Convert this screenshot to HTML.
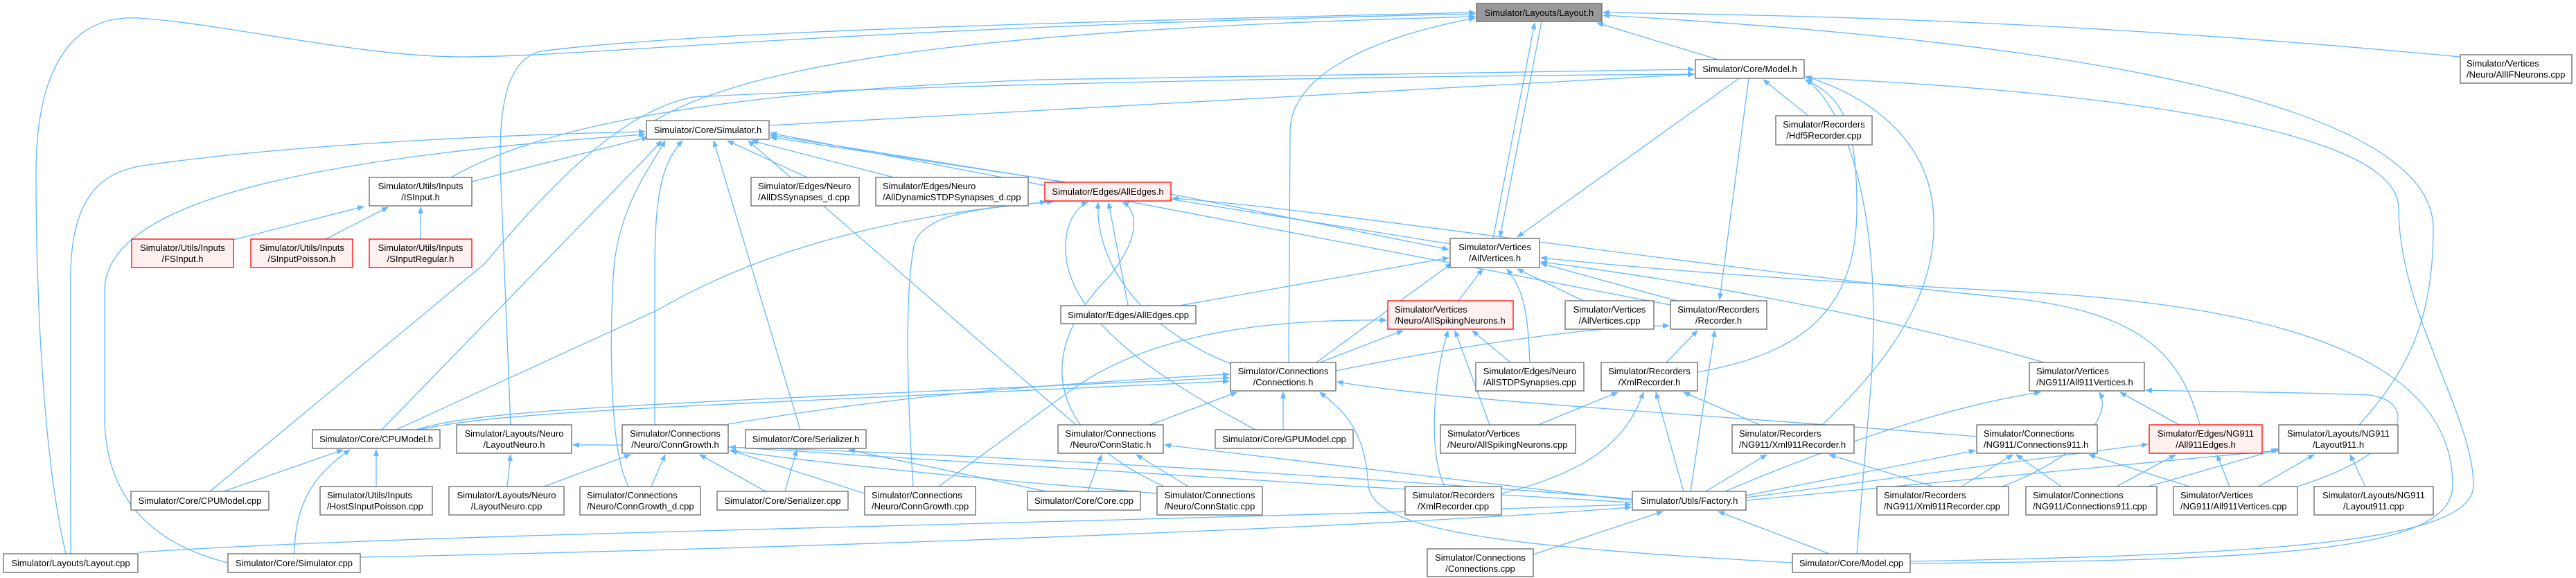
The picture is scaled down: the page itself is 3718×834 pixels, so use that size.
<!DOCTYPE html>
<html><head><meta charset="utf-8"><style>
html,body{margin:0;padding:0;background:#fff;}
svg{display:block;}
text{font-family:"Liberation Sans",sans-serif;font-size:13px;fill:#000;}
.e{fill:none;stroke:#63b8ff;stroke-width:1.3;}
.n{fill:#fff;stroke:#666;stroke-width:1.3;}
.r{fill:#fff0f0;stroke:#ff0000;stroke-width:1.3;}
.g{fill:#999;stroke:#666;stroke-width:1.3;}
</style></head><body>
<svg width="3718" height="834" viewBox="0 0 3718 834" xmlns="http://www.w3.org/2000/svg">
<defs><marker id="a" markerWidth="10" markerHeight="8" refX="9" refY="4" orient="auto" markerUnits="userSpaceOnUse"><path d="M0,0 L10,4 L0,8 z" fill="#63b8ff"/></marker></defs>
<g class="e" marker-end="url(#a)">
<path d="M2480,86 L2305,33"/>
<path d="M2155,344 L2215,33"/>
<path d="M2225,31 L2165,342"/>
<path d="M3551,82 C3000,30 2600,22 2314,18"/>
<path d="M3405,613 C3470,540 3512,470 3512,330 C3512,150 3000,60 2314,22"/>
<path d="M95,799 C60,650 52,400 52,250 C52,120 90,20 200,26 C330,35 520,82 667,82 C850,82 1200,40 2129,20"/>
<path d="M737,613 L722,240 C720,130 740,85 780,74 C1000,45 1600,30 2129,18"/>
<path d="M945,174 C1100,80 1500,40 2129,24"/>
<path d="M1860,523 L1862,190 C1862,120 1950,60 2129,26"/>
<path d="M303,709 L700,380 C800,260 900,160 1000,140 C1400,120 2000,110 2445,107"/>
<path d="M551,620 L930,230 L955,203"/>
<path d="M572,620 L950,447 C1150,330 1400,300 1520,291"/>
<path d="M600,620 C700,590 900,585 1774,545"/>
<path d="M605,620 C720,595 900,590 1774,550"/>
<path d="M681,262 L935,198"/>
<path d="M651,256 C800,170 1100,130 1500,115 L2445,100"/>
<path d="M337,346 L525,298"/>
<path d="M470,345 L560,299"/>
<path d="M607,345 L607,299"/>
<path d="M102,799 L102,400 C102,280 150,250 200,240 C400,210 700,195 931,190"/>
<path d="M329,812 C200,780 151,700 151,600 L151,420 C151,300 400,230 931,194"/>
<path d="M199,797 C600,770 1400,760 2354,728"/>
<path d="M520,804 C1200,790 2000,760 2354,732"/>
<path d="M425,799 C425,720 460,680 505,649"/>
<path d="M323,709 L495,649"/>
<path d="M543,702 L543,649"/>
<path d="M732,702 L737,656"/>
<path d="M785,702 L910,656"/>
<path d="M940,702 L960,656"/>
<path d="M907,702 C880,650 880,500 885,400 C890,300 940,240 960,203"/>
<path d="M945,613 L945,400 C945,300 950,240 985,203"/>
<path d="M1051,612 C1300,570 1500,555 1774,540"/>
<path d="M1155,620 L1030,203"/>
<path d="M1133,709 L1150,649"/>
<path d="M1105,709 L1010,656"/>
<path d="M1248,712 L1055,650"/>
<path d="M1318,702 C1305,500 1310,400 1320,350 C1340,300 1450,300 1510,291"/>
<path d="M1355,702 L1550,560 C1650,490 1800,460 2001,462"/>
<path d="M1553,613 L1080,203"/>
<path d="M1660,613 L1785,566"/>
<path d="M1570,709 L1590,656"/>
<path d="M1510,709 L1225,649"/>
<path d="M1715,702 L1640,656"/>
<path d="M1670,712 C1400,690 1200,670 1053,650"/>
<path d="M1680,702 C1500,620 1500,500 1600,400 C1650,340 1640,300 1620,292"/>
<path d="M1852,620 L1852,566"/>
<path d="M1812,620 C1700,560 1560,480 1540,380 C1530,320 1560,295 1570,292"/>
<path d="M1628,441 L1600,292"/>
<path d="M1702,441 L2091,372"/>
<path d="M1790,530 C1650,480 1580,380 1585,292"/>
<path d="M1900,523 L2095,380"/>
<path d="M1165,256 L1050,203"/>
<path d="M1290,256 L1085,203"/>
<path d="M1540,263 L1112,198"/>
<path d="M2093,352 L1112,195"/>
<path d="M2411,440 L1112,192"/>
<path d="M1690,280 L2091,360"/>
<path d="M1110,181 L2445,107"/>
<path d="M1928,535 C2100,500 2300,470 2409,470"/>
<path d="M1905,523 L2025,477"/>
<path d="M2105,434 L2140,388"/>
<path d="M2285,434 L2190,388"/>
<path d="M2420,434 L2224,380"/>
<path d="M2524,113 L2482,432"/>
<path d="M2510,113 L2190,342"/>
<path d="M2610,167 L2545,115"/>
<path d="M2180,523 L2125,477"/>
<path d="M2208,523 C2205,450 2200,420 2175,388"/>
<path d="M2405,523 L2450,477"/>
<path d="M2450,537 C2600,510 2680,450 2680,300 C2680,180 2660,140 2606,115"/>
<path d="M2150,613 L2100,477"/>
<path d="M2220,613 L2335,566"/>
<path d="M2540,613 L2430,566"/>
<path d="M2630,613 C2750,500 2800,400 2790,300 C2780,200 2700,140 2606,110"/>
<path d="M2167,712 C2300,680 2350,630 2372,566"/>
<path d="M2085,702 C2060,650 2070,540 2090,477"/>
<path d="M2430,709 L2390,566"/>
<path d="M2440,709 L2475,477"/>
<path d="M2462,709 L2550,656"/>
<path d="M2356,720 C2000,690 1200,640 827,642"/>
<path d="M2356,722 L1681,642"/>
<path d="M2356,725 C1900,700 1300,660 1053,645"/>
<path d="M2520,715 L2851,650"/>
<path d="M2520,718 L3100,641"/>
<path d="M2520,722 L3287,650"/>
<path d="M2490,709 C2700,620 2850,580 2945,566"/>
<path d="M2213,800 L2400,738"/>
<path d="M2587,812 C2200,790 1980,770 1975,700 C1970,630 1950,600 1905,566"/>
<path d="M2640,799 L2480,738"/>
<path d="M2680,799 L2700,560 C2720,300 2660,150 2606,115"/>
<path d="M2757,810 C3300,800 3570,780 3570,700 C3570,600 3462,450 3462,300 C3462,180 3000,130 2606,112"/>
<path d="M2757,813 C3300,808 3540,795 3540,700 C3540,520 3300,440 2900,420 C2600,405 2400,390 2224,372"/>
<path d="M2790,702 L2640,656"/>
<path d="M2890,702 C3000,660 3050,600 3030,566"/>
<path d="M2950,523 C2700,450 2400,400 2224,378"/>
<path d="M3145,613 L3060,566"/>
<path d="M3175,613 C3150,520 3100,450 2900,430 C2400,380 1900,300 1692,286"/>
<path d="M2853,630 C2500,600 2100,580 1930,551"/>
<path d="M2975,702 L2910,656"/>
<path d="M3055,702 L3140,656"/>
<path d="M3100,702 L3290,648"/>
<path d="M3160,702 L3015,656"/>
<path d="M3218,702 L3200,656"/>
<path d="M3260,702 L3340,656"/>
<path d="M3316,702 C3480,650 3490,580 3420,570 C3300,565 3150,565 3097,563"/>
<path d="M3414,702 L3392,656"/>
<path d="M2831,702 L2905,656"/>
</g>
<g>
<rect class="g" x="2131" y="5" width="181" height="26"/><text x="2221.5" y="23" text-anchor="middle">Simulator/Layouts/Layout.h</text>
<rect class="n" x="2447" y="86" width="157" height="27"/><text x="2525.5" y="104" text-anchor="middle">Simulator/Core/Model.h</text>
<rect class="n" x="2563" y="167" width="139" height="42"/><text x="2632.5" y="184" text-anchor="middle">Simulator/Recorders</text><text x="2632.5" y="200" text-anchor="middle">/Hdf5Recorder.cpp</text>
<rect class="n" x="2093" y="344" width="129" height="42"/><text x="2157.5" y="361" text-anchor="middle">Simulator/Vertices</text><text x="2157.5" y="377" text-anchor="middle">/AllVertices.h</text>
<rect class="n" x="3551" y="79" width="161" height="41"/><text x="3560" y="96">Simulator/Vertices</text><text x="3560" y="112">/Neuro/AllIFNeurons.cpp</text>
<rect class="n" x="933" y="174" width="177" height="27"/><text x="1021.5" y="192" text-anchor="middle">Simulator/Core/Simulator.h</text>
<rect class="n" x="1084" y="256" width="156" height="41"/><text x="1094" y="273">Simulator/Edges/Neuro</text><text x="1094" y="289">/AllDSSynapses_d.cpp</text>
<rect class="n" x="1264" y="256" width="220" height="41"/><text x="1274" y="273">Simulator/Edges/Neuro</text><text x="1274" y="289">/AllDynamicSTDPSynapses_d.cpp</text>
<rect class="r" x="1508" y="263" width="182" height="27"/><text x="1599" y="281" text-anchor="middle">Simulator/Edges/AllEdges.h</text>
<rect class="n" x="533" y="256" width="148" height="41"/><text x="607" y="273" text-anchor="middle">Simulator/Utils/Inputs</text><text x="607" y="289" text-anchor="middle">/ISInput.h</text>
<rect class="r" x="190" y="345" width="147" height="41"/><text x="263.5" y="362" text-anchor="middle">Simulator/Utils/Inputs</text><text x="263.5" y="378" text-anchor="middle">/FSInput.h</text>
<rect class="r" x="362" y="345" width="147" height="41"/><text x="435.5" y="362" text-anchor="middle">Simulator/Utils/Inputs</text><text x="435.5" y="378" text-anchor="middle">/SInputPoisson.h</text>
<rect class="r" x="533" y="345" width="148" height="41"/><text x="607" y="362" text-anchor="middle">Simulator/Utils/Inputs</text><text x="607" y="378" text-anchor="middle">/SInputRegular.h</text>
<rect class="n" x="451" y="620" width="184" height="27"/><text x="543" y="638" text-anchor="middle">Simulator/Core/CPUModel.h</text>
<rect class="n" x="659" y="613" width="166" height="41"/><text x="742" y="630" text-anchor="middle">Simulator/Layouts/Neuro</text><text x="742" y="646" text-anchor="middle">/LayoutNeuro.h</text>
<rect class="n" x="189" y="709" width="199" height="27"/><text x="288.5" y="727" text-anchor="middle">Simulator/Core/CPUModel.cpp</text>
<rect class="n" x="462" y="702" width="162" height="41"/><text x="472" y="719">Simulator/Utils/Inputs</text><text x="472" y="735">/HostSInputPoisson.cpp</text>
<rect class="n" x="648" y="702" width="166" height="41"/><text x="731" y="719" text-anchor="middle">Simulator/Layouts/Neuro</text><text x="731" y="735" text-anchor="middle">/LayoutNeuro.cpp</text>
<rect class="n" x="837" y="702" width="174" height="41"/><text x="847" y="719">Simulator/Connections</text><text x="847" y="735">/Neuro/ConnGrowth_d.cpp</text>
<rect class="n" x="5" y="799" width="194" height="27"/><text x="102" y="817" text-anchor="middle">Simulator/Layouts/Layout.cpp</text>
<rect class="n" x="329" y="799" width="191" height="27"/><text x="424.5" y="817" text-anchor="middle">Simulator/Core/Simulator.cpp</text>
<rect class="n" x="898" y="613" width="153" height="41"/><text x="974.5" y="630" text-anchor="middle">Simulator/Connections</text><text x="974.5" y="646" text-anchor="middle">/Neuro/ConnGrowth.h</text>
<rect class="n" x="1531" y="441" width="195" height="26"/><text x="1628.5" y="459" text-anchor="middle">Simulator/Edges/AllEdges.cpp</text>
<rect class="n" x="1776" y="523" width="152" height="41"/><text x="1852" y="540" text-anchor="middle">Simulator/Connections</text><text x="1852" y="556" text-anchor="middle">/Connections.h</text>
<rect class="n" x="1076" y="620" width="174" height="27"/><text x="1163" y="638" text-anchor="middle">Simulator/Core/Serializer.h</text>
<rect class="n" x="1527" y="613" width="152" height="41"/><text x="1603" y="630" text-anchor="middle">Simulator/Connections</text><text x="1603" y="646" text-anchor="middle">/Neuro/ConnStatic.h</text>
<rect class="n" x="1754" y="620" width="199" height="27"/><text x="1853.5" y="638" text-anchor="middle">Simulator/Core/GPUModel.cpp</text>
<rect class="n" x="1035" y="709" width="189" height="27"/><text x="1129.5" y="727" text-anchor="middle">Simulator/Core/Serializer.cpp</text>
<rect class="n" x="1248" y="702" width="160" height="41"/><text x="1258" y="719">Simulator/Connections</text><text x="1258" y="735">/Neuro/ConnGrowth.cpp</text>
<rect class="n" x="1483" y="709" width="163" height="27"/><text x="1564.5" y="727" text-anchor="middle">Simulator/Core/Core.cpp</text>
<rect class="n" x="1670" y="702" width="152" height="41"/><text x="1746" y="719" text-anchor="middle">Simulator/Connections</text><text x="1746" y="735" text-anchor="middle">/Neuro/ConnStatic.cpp</text>
<rect class="r" x="2003" y="434" width="181" height="41"/><text x="2013" y="451">Simulator/Vertices</text><text x="2013" y="467">/Neuro/AllSpikingNeurons.h</text>
<rect class="n" x="2259" y="434" width="128" height="41"/><text x="2323" y="451" text-anchor="middle">Simulator/Vertices</text><text x="2323" y="467" text-anchor="middle">/AllVertices.cpp</text>
<rect class="n" x="2411" y="434" width="139" height="41"/><text x="2480.5" y="451" text-anchor="middle">Simulator/Recorders</text><text x="2480.5" y="467" text-anchor="middle">/Recorder.h</text>
<rect class="n" x="2130" y="523" width="156" height="41"/><text x="2208" y="540" text-anchor="middle">Simulator/Edges/Neuro</text><text x="2208" y="556" text-anchor="middle">/AllSTDPSynapses.cpp</text>
<rect class="n" x="2311" y="523" width="139" height="41"/><text x="2380.5" y="540" text-anchor="middle">Simulator/Recorders</text><text x="2380.5" y="556" text-anchor="middle">/XmlRecorder.h</text>
<rect class="n" x="2079" y="613" width="195" height="41"/><text x="2089" y="630">Simulator/Vertices</text><text x="2089" y="646">/Neuro/AllSpikingNeurons.cpp</text>
<rect class="n" x="2500" y="613" width="176" height="41"/><text x="2510" y="630">Simulator/Recorders</text><text x="2510" y="646">/NG911/Xml911Recorder.h</text>
<rect class="n" x="2028" y="702" width="139" height="41"/><text x="2097.5" y="719" text-anchor="middle">Simulator/Recorders</text><text x="2097.5" y="735" text-anchor="middle">/XmlRecorder.cpp</text>
<rect class="n" x="2356" y="709" width="164" height="27"/><text x="2438" y="727" text-anchor="middle">Simulator/Utils/Factory.h</text>
<rect class="n" x="2709" y="702" width="190" height="41"/><text x="2719" y="719">Simulator/Recorders</text><text x="2719" y="735">/NG911/Xml911Recorder.cpp</text>
<rect class="n" x="2060" y="792" width="153" height="40"/><text x="2136.5" y="809" text-anchor="middle">Simulator/Connections</text><text x="2136.5" y="825" text-anchor="middle">/Connections.cpp</text>
<rect class="n" x="2587" y="799" width="170" height="27"/><text x="2672" y="817" text-anchor="middle">Simulator/Core/Model.cpp</text>
<rect class="n" x="2929" y="523" width="166" height="41"/><text x="2939" y="540">Simulator/Vertices</text><text x="2939" y="556">/NG911/All911Vertices.h</text>
<rect class="n" x="2853" y="613" width="174" height="41"/><text x="2863" y="630">Simulator/Connections</text><text x="2863" y="646">/NG911/Connections911.h</text>
<rect class="r" x="3102" y="613" width="163" height="41"/><text x="3183.5" y="630" text-anchor="middle">Simulator/Edges/NG911</text><text x="3183.5" y="646" text-anchor="middle">/All911Edges.h</text>
<rect class="n" x="3289" y="613" width="172" height="41"/><text x="3375" y="630" text-anchor="middle">Simulator/Layouts/NG911</text><text x="3375" y="646" text-anchor="middle">/Layout911.h</text>
<rect class="n" x="2924" y="702" width="189" height="41"/><text x="2934" y="719">Simulator/Connections</text><text x="2934" y="735">/NG911/Connections911.cpp</text>
<rect class="n" x="3137" y="702" width="179" height="41"/><text x="3147" y="719">Simulator/Vertices</text><text x="3147" y="735">/NG911/All911Vertices.cpp</text>
<rect class="n" x="3340" y="702" width="172" height="41"/><text x="3426" y="719" text-anchor="middle">Simulator/Layouts/NG911</text><text x="3426" y="735" text-anchor="middle">/Layout911.cpp</text>
</g>
</svg>
</body></html>
